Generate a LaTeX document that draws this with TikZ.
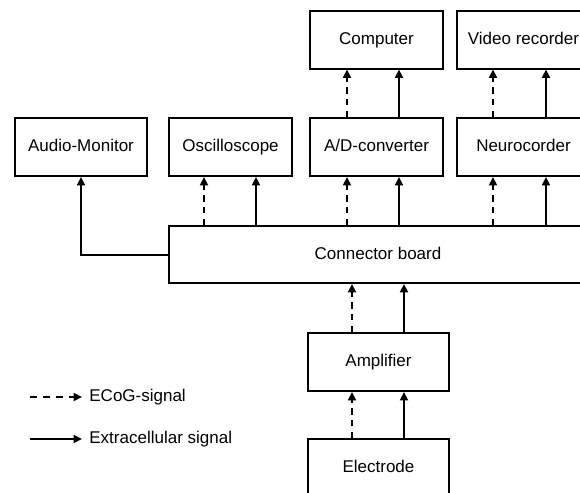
\documentclass[tikz,border=0pt]{standalone}
\usepackage{fontspec}
\setmainfont{Liberation Sans}
\usetikzlibrary{arrows.meta}
\begin{document}
\begin{tikzpicture}[x=0.5pt,y=-0.5pt,
  box/.style={draw,line width=1pt,inner sep=0pt,minimum height=29pt,
    text height=6.2pt,text depth=1.6pt,
    font=\fontsize{8.5}{10}\selectfont},
  sig/.style={line width=1pt,-{Triangle[length=4.2pt,width=4pt]}},
  ecog/.style={sig,dash pattern=on 3.2pt off 2.6pt},
  legtext/.style={anchor=west,inner sep=3.5pt,font=\fontsize{8.5}{10}\selectfont}]
\clip (0,0) rectangle (580,493);
\useasboundingbox (0,0) rectangle (580,493);

% top row
\node[box,minimum width=66.5pt] (computer) at (376.5,39.5) {Computer};
\node[box,minimum width=66.5pt] (video) at (523.5,39.5) {Video recorder};
% second row
\node[box,minimum width=66pt] (audio) at (81,147) {Audio-Monitor};
\node[box,minimum width=61.5pt] (osc) at (230.5,147) {Oscilloscope};
\node[box,minimum width=66.5pt] (ad) at (376.5,147) {A/D-converter};
\node[box,minimum width=66.5pt] (neuro) at (523.5,147) {Neurocorder};
% connector board
\node[box,minimum width=209pt,minimum height=28.5pt] (board) at (378,254.5) {Connector board};
% acquisition chain
\node[box,minimum width=70.5pt] (amp) at (378.5,362) {Amplifier};
\node[box,minimum width=70.5pt] (elec) at (378.5,468) {Electrode};

% column positions of the signal lines
\coordinate (xo1) at (204,0);
\coordinate (xo2) at (256,0);
\coordinate (xa1) at (347,0);
\coordinate (xa2) at (399,0);
\coordinate (xn1) at (493,0);
\coordinate (xn2) at (546,0);
\coordinate (xb1) at (352,0);
\coordinate (xb2) at (404,0);

% electrode -> amplifier -> board
\draw[ecog] (elec.north -| xb1) -- (amp.south -| xb1);
\draw[sig]  (elec.north -| xb2) -- (amp.south -| xb2);
\draw[ecog] (amp.north -| xb1) -- (board.south -| xb1);
\draw[sig]  (amp.north -| xb2) -- (board.south -| xb2);

% board -> instruments
\draw[sig] (board.west) -| (audio.south);
\draw[ecog] (board.north -| xo1) -- (osc.south -| xo1);
\draw[sig]  (board.north -| xo2) -- (osc.south -| xo2);
\draw[ecog] (board.north -| xa1) -- (ad.south -| xa1);
\draw[sig]  (board.north -| xa2) -- (ad.south -| xa2);
\draw[ecog] (board.north -| xn1) -- (neuro.south -| xn1);
\draw[sig]  (board.north -| xn2) -- (neuro.south -| xn2);

% second row -> top row
\draw[ecog] (ad.north -| xa1) -- (computer.south -| xa1);
\draw[sig]  (ad.north -| xa2) -- (computer.south -| xa2);
\draw[ecog] (neuro.north -| xn1) -- (video.south -| xn1);
\draw[sig]  (neuro.north -| xn2) -- (video.south -| xn2);

% legend
\coordinate (l1s) at (30,397);
\coordinate (l2s) at (30,439);
\node[legtext] (l1) at (82,397) {ECoG-signal};
\node[legtext] (l2) at (82,439) {Extracellular signal};
\draw[ecog,dash pattern=on 3.5pt off 3pt] (l1s) -- (l1.west);
\draw[sig] (l2s) -- (l2.west);
\end{tikzpicture}
\end{document}
